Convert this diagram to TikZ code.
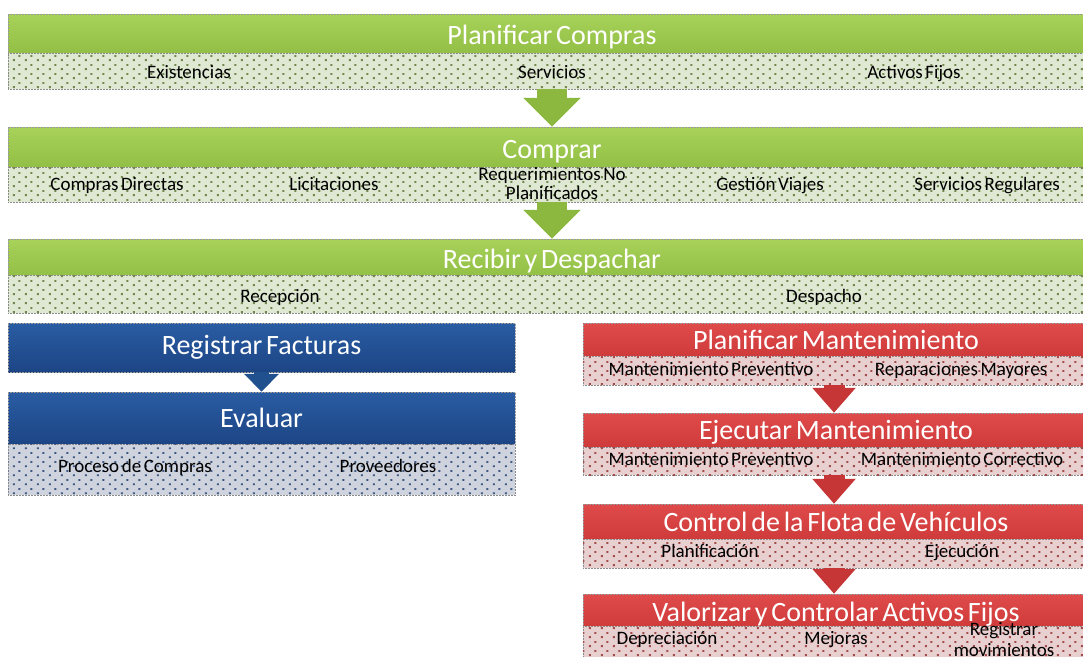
\documentclass[tikz,border=0pt]{standalone}
\usepackage{fontspec}
\setmainfont{Carlito}[WordSpace=0.6]
\usetikzlibrary{arrows.meta,patterns.meta}
\definecolor{gTop}{HTML}{A8D25A}
\definecolor{gBot}{HTML}{92BF45}
\definecolor{gStrip}{HTML}{DFE8D3}
\definecolor{gDot}{HTML}{4F6A22}
\definecolor{gArr}{HTML}{8CB840}
\definecolor{bTop}{HTML}{2A5CA3}
\definecolor{bBot}{HTML}{1C4585}
\definecolor{bStrip}{HTML}{CED3DD}
\definecolor{bDot}{HTML}{1B3B70}
\definecolor{bArr}{HTML}{21508F}
\definecolor{rTop}{HTML}{DE4B4A}
\definecolor{rBot}{HTML}{CF3B3B}
\definecolor{rStrip}{HTML}{E9D0D0}
\definecolor{rDot}{HTML}{8A1E1E}
\definecolor{rArr}{HTML}{C63636}
\tikzdeclarepattern{
  name=sdots,
  type=uncolored,
  bounding box={(0pt,0pt) and (12pt,9pt)},
  tile size={(12pt,9pt)},
  code={
    \fill (1pt,1pt) rectangle (3pt,3pt);
    \fill (7pt,5.5pt) rectangle (9pt,7.5pt);
  }
}
\newcommand{\hdrfont}{\fontsize{28}{30}\selectfont}
\newcommand{\subfont}{\fontsize{19}{19}\selectfont}
\tikzset{
  hdr/.style={rectangle, inner sep=0pt, text=white, font=\hdrfont,
    draw=black!40, densely dotted, line width=0.5pt},
  ghead/.style={hdr, top color=gTop, bottom color=gBot, text height=22pt, text depth=0pt},
  bhead/.style={hdr, top color=bTop, bottom color=bBot},
  rhead/.style={hdr, top color=rTop, bottom color=rBot},
  strip/.style={rectangle, inner sep=0pt, draw=black!45, densely dotted, line width=0.5pt},
  gstrip/.style={strip, fill=gStrip, postaction={pattern=sdots, pattern color=gDot!80}},
  bstrip/.style={strip, fill=bStrip, postaction={pattern=sdots, pattern color=bDot!85}},
  rstrip/.style={strip, fill=rStrip, postaction={pattern=sdots, pattern color=rDot!80}},
  item/.style={inner sep=0pt, text=black, font=\subfont, text height=12.5pt, text depth=0pt},
  item2/.style={inner sep=0pt, text=black, align=center},
  garrow/.style={draw=gArr, line width=30pt, line cap=butt,
    -{Triangle[width=56pt,length=29pt]}},
  barrow/.style={draw=bArr, line width=15pt, line cap=butt,
    -{Triangle[width=34pt,length=18pt]}},
  rarrow/.style={draw=rArr, line width=21pt, line cap=butt,
    -{Triangle[width=42pt,length=25pt]}},
}
\begin{document}
\begin{tikzpicture}[x=1pt,y=-1pt]
\useasboundingbox (0,0) rectangle (1083,656);
\clip (0,0) rectangle (1083,656);
\fill[white] (0,0) rectangle (1083,656);

% ---------- Green: Planificar Compras ----------
\node[ghead, minimum width=1088pt, minimum height=39pt] (pc) at (552,33.5) {Planificar Compras};
\node[gstrip, minimum width=1088pt, minimum height=36pt] (pcs) at (552,71) {};
\node[item] (pc1) at (189,72) {Existencias};
\node[item] (pc2) at (552,72) {Servicios};
\node[item] (pc3) at (914,72) {Activos Fijos};

% ---------- Green: Comprar ----------
\node[ghead, minimum width=1088pt, minimum height=40pt] (cm) at (552,147) {Comprar};
\node[gstrip, minimum width=1088pt, minimum height=35pt] (cms) at (552,184.5) {};
\node[item] (cm1) at (117,184) {Compras Directas};
\node[item] (cm2) at (334,184) {Licitaciones};
\node[item2, font=\fontsize{19}{19}\selectfont] (cm3) at (552,183.5) {Requerimientos No\\Planificados};
\node[item] (cm4) at (770,184) {Gestión Viajes};
\node[item] (cm5) at (987,184) {Servicios Regulares};

% ---------- Green: Recibir y Despachar ----------
\node[ghead, minimum width=1088pt, minimum height=37pt] (rd) at (552,257.5) {Recibir y Despachar};
\node[gstrip, minimum width=1088pt, minimum height=38pt] (rds) at (552,294) {};
\node[item] (rd1) at (280,296) {Recepción};
\node[item] (rd2) at (824,296) {Despacho};

% ---------- Blue ----------
\node[bhead, minimum width=507pt, minimum height=49pt] (rf) at (261.5,347.5) {Registrar Facturas};
\node[bhead, minimum width=507pt, minimum height=52pt] (ev) at (261.5,418) {Evaluar};
\node[bstrip, minimum width=507pt, minimum height=51pt] (evs) at (261.5,469.5) {};
\node[item] (ev1) at (135,466) {Proceso de Compras};
\node[item] (ev2) at (388,466) {Proveedores};

% ---------- Red ----------
\node[rhead, minimum width=506pt, minimum height=33pt] (pm) at (836,339.5) {Planificar Mantenimiento};
\node[rstrip, minimum width=506pt, minimum height=29pt] (pms) at (836,370.5) {};
\node[item] (pm1) at (711,369) {Mantenimiento Preventivo};
\node[item] (pm2) at (961,369) {Reparaciones Mayores};

\node[rhead, minimum width=506pt, minimum height=34pt, text height=21pt, text depth=3pt] (em) at (836,430) {Ejecutar Mantenimiento};
\node[rstrip, minimum width=506pt, minimum height=28pt] (ems) at (836,461) {};
\node[item] (em1) at (711,459) {Mantenimiento Preventivo};
\node[item] (em2) at (962,459) {Mantenimiento Correctivo};

\node[rhead, minimum width=506pt, minimum height=35pt] (cf) at (836,521.5) {Control de la Flota de Vehículos};
\node[rstrip, minimum width=506pt, minimum height=29pt] (cfs) at (836,553.5) {};
\node[item] (cf1) at (710,551) {Planificación};
\node[item] (cf2) at (962,551) {Ejecución};

\node[rhead, minimum width=506pt, minimum height=32pt, text height=22pt, text depth=0pt] (va) at (836,610) {Valorizar y Controlar Activos Fijos};
\node[rstrip, minimum width=506pt, minimum height=34pt] (vas) at (836,643) {};
\node[item] (va1) at (667,638) {Depreciación};
\node[item] (va2) at (836,638) {Mejoras};
\node[item2, font=\fontsize{19}{21}\selectfont] (va3) at (1004,640) {Registrar\\movimientos};

% ---------- Arrows ----------
\draw[garrow] (pcs.south) -- (cm.north);
\draw[garrow] (cms.south) -- (rd.north);
\draw[barrow] (rf.south) -- (ev.north);
\draw[rarrow] ([xshift=-2pt]pms.south) -- ([xshift=-2pt]em.north);
\draw[rarrow] ([xshift=-2pt]ems.south) -- ([xshift=-2pt]cf.north);
\draw[rarrow] ([xshift=-2pt]cfs.south) -- ([xshift=-2pt]va.north);
\end{tikzpicture}
\end{document}
